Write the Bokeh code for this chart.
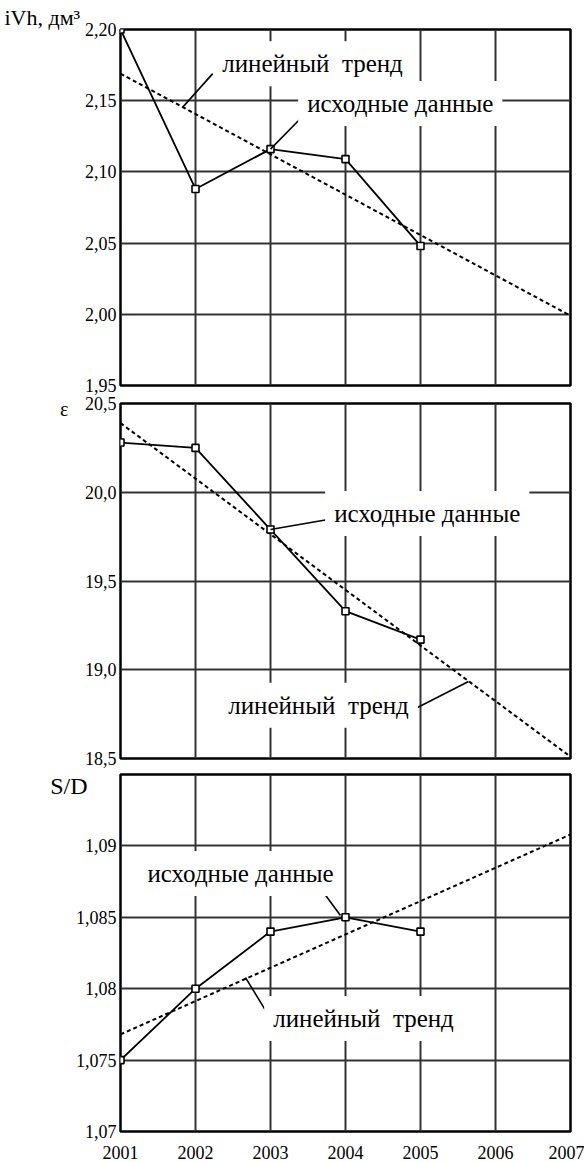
from bokeh.plotting import figure
from bokeh.models import FixedTicker, Label, Range1d, LinearAxis, Title
from bokeh.layouts import column
from bokeh.embed import file_html
from bokeh.resources import INLINE

# ---------------- data ----------------
years = [2001, 2002, 2003, 2004, 2005]
trend_years = [2001, 2007]
x_ticks = [2001, 2002, 2003, 2004, 2005, 2006, 2007]

ivh_values = [2.200, 2.088, 2.116, 2.109, 2.048]
ivh_trend = [2.169, 1.999]
ivh_ticks = [1.95, 2.00, 2.05, 2.10, 2.15, 2.20]
ivh_tick_labels = ["1,95", "2,00", "2,05", "2,10", "2,15", "2,20"]

eps_values = [20.28, 20.25, 19.79, 19.33, 19.17]
eps_trend = [20.39, 18.51]
eps_ticks = [18.5, 19.0, 19.5, 20.0, 20.5]
eps_tick_labels = ["18,5", "19,0", "19,5", "20,0", "20,5"]

sd_values = [1.075, 1.080, 1.084, 1.085, 1.084]
sd_trend = [1.0768, 1.0908]
sd_ticks = [1.07, 1.075, 1.08, 1.085, 1.09]
sd_tick_labels = ["1,07", "1,075", "1,08", "1,085", "1,09"]

title_ivh = "iVh, дм³"
title_eps = "ε"
title_sd = "S/D"
label_data = "исходные данные"
label_trend = "линейный\u00a0 тренд"

FONT = "'Liberation Serif', 'Times New Roman', serif"


def style_axis(ax, size, standoff):
    ax.axis_line_color = None
    ax.major_tick_line_color = None
    ax.minor_tick_line_color = None
    ax.major_tick_out = 0
    ax.major_tick_in = 0
    ax.minor_tick_out = 0
    ax.minor_tick_in = 0
    ax.major_label_text_font = FONT
    ax.major_label_text_font_style = "normal"
    ax.major_label_text_font_size = size
    ax.major_label_text_color = "black"
    ax.major_label_standoff = standoff


def make_panel(values, trend, ticks, tick_labels, yr, border_top, frame_h,
               border_bottom, show_x):
    p = figure(frame_width=450, frame_height=frame_h,
               x_range=Range1d(2001, 2007), y_range=Range1d(*yr),
               output_backend="svg", toolbar_location=None,
               min_border_left=120, min_border_right=14,
               min_border_top=border_top, min_border_bottom=border_bottom)
    p.background_fill_color = "white"
    p.border_fill_color = "white"
    p.outline_line_color = "black"
    p.outline_line_width = 2.5

    p.yaxis.ticker = FixedTicker(ticks=ticks)
    p.yaxis.major_label_overrides = dict(zip(ticks, tick_labels))
    style_axis(p.yaxis[0], "18px", 4)

    p.xaxis.ticker = FixedTicker(ticks=x_ticks)
    style_axis(p.xaxis[0], "18px", 14)
    if not show_x:
        p.xaxis.visible = False

    for g in p.xgrid + p.ygrid:
        g.grid_line_color = "#333333"
        g.grid_line_width = 2
    p.xgrid.ticker = FixedTicker(ticks=x_ticks)
    p.ygrid.ticker = FixedTicker(ticks=ticks)

    p.line(trend_years, trend, line_color="black", line_width=2,
           line_dash="4 3")
    p.line(years, values, line_color="black", line_width=1.8)
    p.scatter(years, values, marker="square", size=7, fill_color="white",
              line_color="black", line_width=1.6)
    return p


def add_side_title(p, y, text, size, standoff):
    ax = LinearAxis(ticker=FixedTicker(ticks=[y]),
                    major_label_overrides={y: text})
    style_axis(ax, size, standoff)
    p.add_layout(ax, "left")


def add_text(p, x, y, text):
    p.add_layout(Label(x=x, y=y, text=text, text_font=FONT,
                       text_font_style="normal",
                       text_font_size="25px", text_color="black",
                       text_align="center", text_baseline="middle",
                       background_fill_color="white", padding=9))


def add_leader(p, x0, y0, x1, y1):
    p.segment(x0=[x0], y0=[y0], x1=[x1], y1=[y1], line_color="black",
              line_width=1.6)


# Panel 1
p1 = make_panel(ivh_values, ivh_trend, ivh_ticks, ivh_tick_labels,
                (1.95, 2.20), 29, 356, 10, False)
p1.add_layout(Title(text=title_ivh, align="left", offset=-116, standoff=0,
                    text_font=FONT, text_font_size="22px",
                    text_font_style="normal", text_color="black"), "above")
add_leader(p1, 2002.23, 2.169, 2001.83, 2.1455)
add_leader(p1, 2003.0, 2.116, 2003.44, 2.1396)
add_text(p1, 2003.56, 2.176, label_trend)
add_text(p1, 2004.73, 2.1480, label_data)

# Panel 2
p2 = make_panel(eps_values, eps_trend, eps_ticks, eps_tick_labels,
                (18.5, 20.5), 8, 355, 10, False)
add_side_title(p2, 20.4995, title_eps, "20px", 13)
add_leader(p2, 2003.0, 19.79, 2003.77, 19.846)
add_leader(p2, 2004.96, 18.787, 2005.64, 18.934)
add_text(p2, 2005.09, 19.88, label_data)
add_text(p2, 2003.64, 18.80, label_trend)

# Panel 3
p3 = make_panel(sd_values, sd_trend, sd_ticks, sd_tick_labels,
                (1.07, 1.095), 6, 357, 31, True)
add_side_title(p3, 1.09416, title_sd, "24px", -15)
add_leader(p3, 2003.707, 1.08674, 2003.933, 1.08513)
add_leader(p3, 2002.96, 1.07826, 2002.667, 1.08078)
add_text(p3, 2002.60, 1.08807, label_data)
add_text(p3, 2004.24, 1.07791, label_trend)

layout = column(p1, p2, p3, spacing=0)
open("out.html", "w").write(file_html(layout, INLINE))
